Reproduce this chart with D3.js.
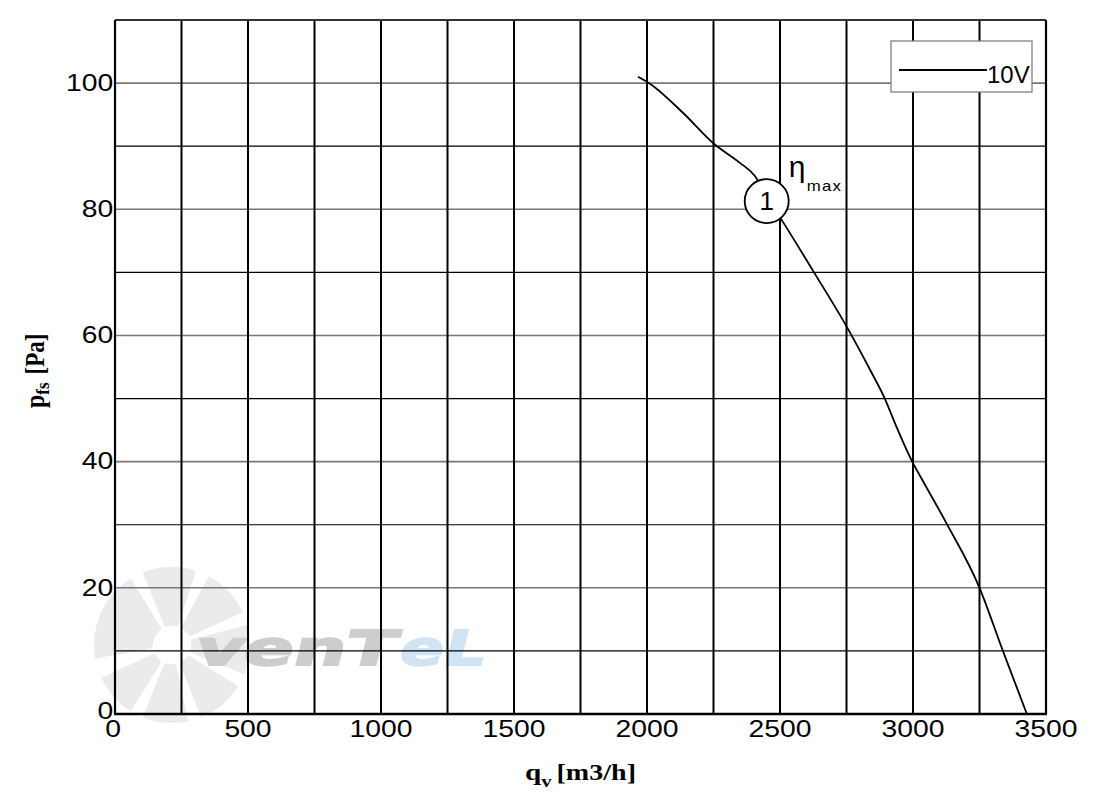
<!DOCTYPE html>
<html>
<head>
<meta charset="utf-8">
<script src="https://cdn.jsdelivr.net/npm/d3@7"></script>
<style>
html,body{margin:0;padding:0;background:#fff;}
svg{display:block;}
</style>
</head>
<body>
<svg id="chart" width="1107" height="794"></svg>
<script>
// ---- data ----
const flowQ = [1966, 2004, 2135, 2254, 2348, 2405, 2450, 2505, 2625, 2756, 2838, 2894, 2937, 2997, 3031, 3125, 3250, 3338, 3428];
const pressure = [101, 100.1, 95.3, 90.3, 87.4, 85.3, 82.0, 78.4, 70.2, 61.0, 54.6, 50.0, 45.6, 40.0, 37.4, 30.3, 20.0, 10.0, 0];
const seriesName = "10V";
const markerQ = [2450];
const markerP = [81.3];
const markerLabel = ["1"];
const xTicks = [0, 500, 1000, 1500, 2000, 2500, 3000, 3500];
const yTicks = [0, 20, 40, 60, 80, 100];
const xGrid = d3.range(0, 3501, 250);
const yGrid = d3.range(0, 111, 10);

// ---- layout ----
const svg = d3.select("#chart");
const L = 115, R = 1046, T = 20, B = 714;
const x = d3.scaleLinear().domain([0, 3500]).range([L, R]);
const y = d3.scaleLinear().domain([0, 110]).range([B, T]);
const SX = 1.18;

// watermark
const wm = svg.append("g").attr("class", "watermark");
const cx0 = 172, cy0 = 645;
const blades = [[-165,-122],[-112,-72],[-62,-25],[-15,22],[32,68],[78,112],[122,155],[170,205]];
blades.forEach(b => {
  const a0 = b[0] * Math.PI/180, a1 = b[1] * Math.PI/180;
  const r0 = 20, r1 = 78;
  const p = `M${cx0+r0*Math.cos(a0)},${cy0+r0*Math.sin(a0)} L${cx0+r1*Math.cos(a0)},${cy0+r1*Math.sin(a0)} A${r1},${r1} 0 0 1 ${cx0+r1*Math.cos(a1)},${cy0+r1*Math.sin(a1)} L${cx0+r0*Math.cos(a1)},${cy0+r0*Math.sin(a1)} Z`;
  wm.append("path").attr("d", p).attr("fill", "#ebebeb");
});
const wmText = wm.append("g").attr("transform", "translate(193,665) skewX(-14)");
wmText.append("text").attr("x", 0).attr("y", 0)
  .attr("font-family", "DejaVu Sans, sans-serif").attr("font-weight", "bold")
  .attr("font-size", 48).attr("textLength", 200).attr("lengthAdjust", "spacingAndGlyphs")
  .attr("fill", "#cdcdcd").attr("stroke", "#cdcdcd").attr("stroke-width", 2).text("venT");
wmText.append("text").attr("x", 204).attr("y", 0)
  .attr("font-family", "DejaVu Sans, sans-serif").attr("font-weight", "bold")
  .attr("font-size", 48).attr("textLength", 85).attr("lengthAdjust", "spacingAndGlyphs")
  .attr("fill", "#d0e4f4").attr("stroke", "#d0e4f4").attr("stroke-width", 2).text("eL");

// grid
const grid = svg.append("g");
grid.selectAll("line.h").data(yGrid.filter(v => v > 0 && v < 110)).join("line")
  .attr("x1", L).attr("x2", R).attr("y1", d => y(d)).attr("y2", d => y(d))
  .attr("stroke", d => d % 20 === 0 ? "#777" : "#000")
  .attr("stroke-width", d => d % 20 === 0 ? 1.6 : 1.2);
grid.selectAll("line.v").data(xGrid.filter(v => v > 0 && v < 3500)).join("line")
  .attr("y1", T).attr("y2", B).attr("x1", d => x(d)).attr("x2", d => x(d))
  .attr("stroke", "#000").attr("stroke-width", 2);

// frame
svg.append("line").attr("x1", L).attr("x2", R).attr("y1", T).attr("y2", T).attr("stroke", "#333").attr("stroke-width", 2);
svg.append("line").attr("x1", R).attr("x2", R).attr("y1", T).attr("y2", B).attr("stroke", "#000").attr("stroke-width", 2.2);
svg.append("line").attr("x1", L).attr("x2", L).attr("y1", T).attr("y2", B).attr("stroke", "#000").attr("stroke-width", 2.2);
svg.append("line").attr("x1", L-1).attr("x2", R+1).attr("y1", B).attr("y2", B).attr("stroke", "#000").attr("stroke-width", 2.4);

// axes labels
const font = "Liberation Sans, Arial, sans-serif";
const xAxis = svg.append("g").attr("transform", `translate(0,${B})`)
  .call(d3.axisBottom(x).tickValues(xTicks).tickSize(0).tickFormat(d3.format("d")));
xAxis.select(".domain").remove();
xAxis.selectAll("text").attr("y", 23).attr("dy", 0).attr("x", 0)
  .attr("font-family", font).attr("font-size", 24).attr("fill", "#000")
  .attr("text-anchor", "middle").attr("transform", `scale(${SX},1)`);
xAxis.selectAll(".tick").attr("transform", function(d) { return `translate(${x(d) - (d === 0 ? 2 : 0)},0)`; });

const yAxis = svg.append("g").attr("transform", `translate(${L},0)`)
  .call(d3.axisLeft(y).tickValues(yTicks).tickSize(0).tickFormat(d3.format("d")));
yAxis.select(".domain").remove();
yAxis.selectAll("text").attr("x", -1.5).attr("dy", "0.3em")
  .attr("font-family", font).attr("font-size", 24).attr("fill", "#000")
  .attr("text-anchor", "end").attr("transform", `scale(${SX},1)`);
yAxis.selectAll(".tick").filter(d => d === 0).attr("transform", `translate(0,${y(0) - 2})`);

// axis titles
const serif = "Liberation Serif, Times New Roman, serif";
const xt = svg.append("text").attr("font-family", serif).attr("font-weight", "bold").attr("fill", "#000")
  .attr("transform", `translate(525,780) scale(1.22,1)`);
xt.append("tspan").attr("font-size", 24).text("q");
xt.append("tspan").attr("font-size", 17).attr("dy", 7).text("v");
xt.append("tspan").attr("font-size", 23).attr("dy", -7).attr("dx", 4).text("[m3/h]");

const yt = svg.append("text").attr("font-family", serif).attr("font-weight", "bold").attr("fill", "#000")
  .attr("transform", `translate(44,408) rotate(-90) scale(1,1.15)`);
yt.append("tspan").attr("font-size", 24).text("p");
yt.append("tspan").attr("font-size", 17).attr("dy", 4).text("fs");
yt.append("tspan").attr("font-size", 23).attr("dy", -4).attr("dx", 8).text("[Pa]");

// curve
const line = d3.line().x((d, i) => x(flowQ[i])).y((d, i) => y(pressure[i])).curve(d3.curveMonotoneX);
svg.append("path").datum(pressure).attr("d", line)
  .attr("fill", "none").attr("stroke", "#000").attr("stroke-width", 1.8);

// marker
const mk = svg.selectAll("g.mk").data(markerQ).join("g")
  .attr("transform", (d, i) => `translate(${x(d)},${y(markerP[i])})`);
mk.append("circle").attr("r", 22).attr("fill", "#fff").attr("stroke", "#000").attr("stroke-width", 1.8);
mk.append("text").attr("text-anchor", "middle").attr("y", 9).attr("font-family", font)
  .attr("font-size", 26).attr("fill", "#000").text((d, i) => markerLabel[i]);
mk.append("text").attr("x", 22).attr("y", -24).attr("font-family", font)
  .attr("font-size", 30).attr("fill", "#000").text("η");
mk.append("text").attr("transform", "translate(40,-10) scale(1.2,1)").attr("font-family", font)
  .attr("font-size", 14).attr("letter-spacing", 1).attr("fill", "#000").text("max");

// legend
const lg = svg.append("g").attr("transform", "translate(891,41)");
lg.append("rect").attr("width", 141).attr("height", 51).attr("fill", "#fff").attr("stroke", "#777").attr("stroke-width", 1.2);
lg.append("line").attr("x1", 8).attr("x2", 96).attr("y1", 29).attr("y2", 29).attr("stroke", "#000").attr("stroke-width", 1.8);
lg.append("text").attr("x", 96).attr("y", 42).attr("font-family", font).attr("font-size", 24).attr("fill", "#000").text(seriesName);
</script>
</body>
</html>
